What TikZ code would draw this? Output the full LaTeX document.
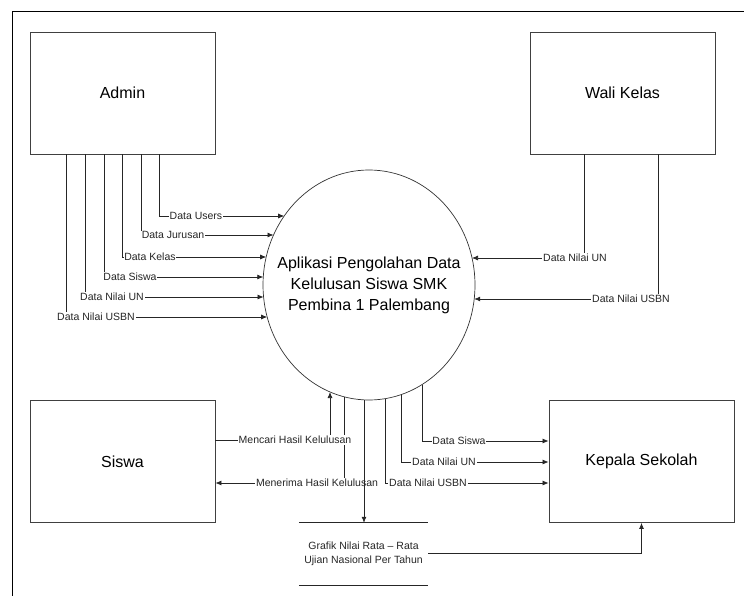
\documentclass[tikz,border=0pt]{standalone}
\usepackage{fontspec}
\setmainfont{Liberation Sans}
\usetikzlibrary{arrows.meta,shapes.geometric}
\begin{document}
\begin{tikzpicture}[x=1pt,y=-1pt,
 line/.style={draw=black!85,line width=0.75pt},
 arr/.style={line,-{Latex[length=6pt,width=5pt]}},
 entity/.style={draw=black!75,line width=0.8pt,minimum width=185pt,minimum height=122pt,inner sep=0pt,font=\fontsize{16}{19}\selectfont},
 lbl/.style={fill=white,inner sep=0.8pt,font=\fontsize{10.5}{12}\selectfont,text=black!85},
]
\useasboundingbox (0,0) rectangle (744,596);
\draw[line width=0.9pt] (744,11) -- (12,11) -- (12,596);

% entities
\node[entity] (admin) at (122.5,93) {Admin};
\node[entity] (wali) at (622.5,93) {Wali Kelas};
\node[entity] (siswa) at (122.5,461.5) {Siswa};
\node[entity] (kepala) at (641.5,461.5) {Kepala Sekolah};

% process
\node[draw=black!80,line width=0.7pt,ellipse,minimum width=212pt,minimum height=230pt,inner sep=0pt] (el) at (369,285) {};
\node[font=\fontsize{16}{21}\selectfont,align=center] (eltext) at (el.center) {Aplikasi Pengolahan Data\\Kelulusan Siswa SMK\\Pembina 1 Palembang};

% data store
\node[minimum width=129pt,minimum height=62pt,inner sep=0pt,align=center,font=\fontsize{10.5}{14.5}\selectfont,text=black!85] (store) at (363.5,554) {Grafik Nilai Rata -- Rata\\Ujian Nasional Per Tahun};
\draw[line] (store.north west) -- (store.north east);
\draw[line] (store.south west) -- (store.south east);

% points on the ellipse border
\coordinate (eA1) at (284.2,216);
\coordinate (eA2) at (273.5,235);
\coordinate (eA3) at (266.2,257);
\coordinate (eA4) at (263.3,277);
\coordinate (eA5) at (263.6,297);
\coordinate (eA6) at (267.2,317);
\coordinate (eW1) at (472,258);
\coordinate (eW2) at (474.2,299);
\coordinate (eS1) at (330,392);
\coordinate (eS2) at (344,396.8);
\coordinate (eG) at (364,400);
\coordinate (eK1) at (422,384.6);
\coordinate (eK2) at (401,394.6);
\coordinate (eK3) at (385,398.7);

% admin flows
\draw[arr] ([xshift=130pt]admin.south west) |- (eA1);
\draw[arr] ([xshift=112pt]admin.south west) |- (eA2);
\draw[arr] ([xshift=93pt]admin.south west) |- (eA3);
\draw[arr] ([xshift=75pt]admin.south west) |- (eA4);
\draw[arr] ([xshift=56pt]admin.south west) |- (eA5);
\draw[arr] ([xshift=37pt]admin.south west) |- (eA6);
\node[lbl] (l1) at (196,216) {Data Users};
\node[lbl] (l2) at (173,235) {Data Jurusan};
\node[lbl] (l3) at (150,257) {Data Kelas};
\node[lbl] (l4) at (130,277) {Data Siswa};
\node[lbl] (l5) at (112,297) {Data Nilai UN};
\node[lbl] (l6) at (96,317) {Data Nilai USBN};

% wali kelas flows
\draw[arr] ([xshift=55pt]wali.south west) |- (eW1);
\draw[arr] ([xshift=129pt]wali.south west) |- (eW2);
\node[lbl] (l7) at (575,258) {Data Nilai UN};
\node[lbl] (l8) at (631,299) {Data Nilai USBN};

% siswa flows
\draw[arr] ([yshift=21.5pt]siswa.east) -| (eS1);
\draw[arr] (eS2) |- ([yshift=-21.5pt]siswa.east);
\node[lbl] (l9) at (295,440) {Mencari Hasil Kelulusan};
\node[lbl] (l10) at (317,483) {Menerima Hasil Kelulusan};

% kepala sekolah flows
\draw[arr] (eK1) |- ([yshift=20.5pt]kepala.west);
\draw[arr] (eK2) |- ([yshift=-0.5pt]kepala.west);
\draw[arr] (eK3) |- ([yshift=-21.5pt]kepala.west);
\node[lbl] (l11) at (459,441) {Data Siswa};
\node[lbl] (l12) at (444,462) {Data Nilai UN};
\node[lbl] (l13) at (428,483) {Data Nilai USBN};

% store flows
\draw[arr] (eG) -- (eG |- store.north);
\draw[arr] ([yshift=1pt]store.east) -| (kepala.south);
\end{tikzpicture}
\end{document}
